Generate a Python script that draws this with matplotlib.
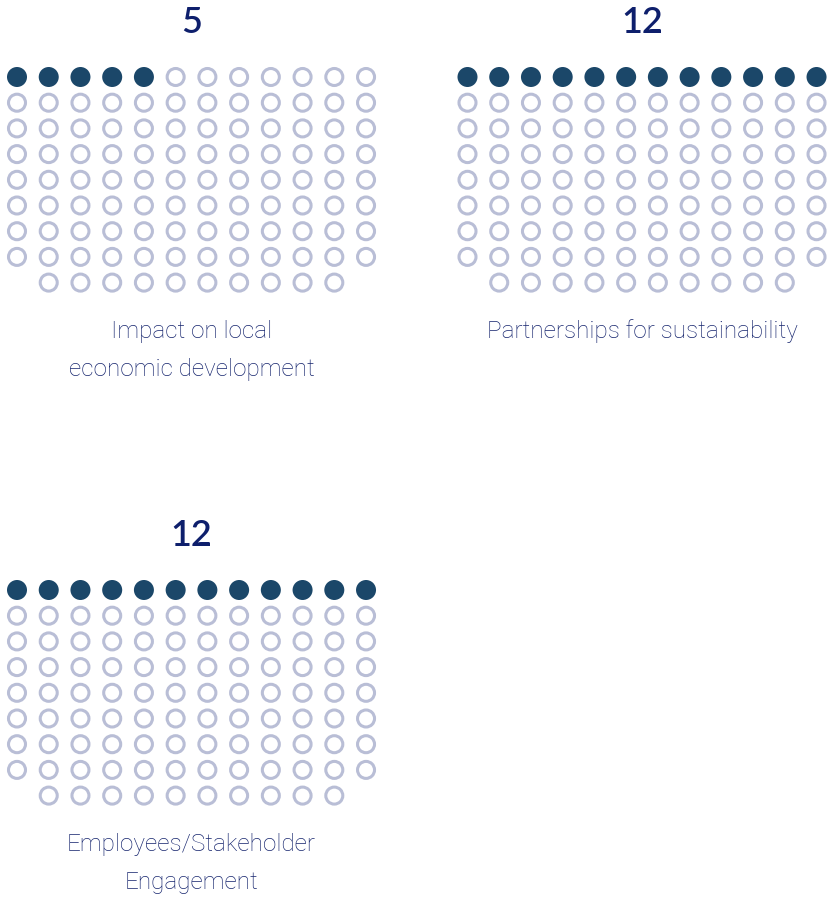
import matplotlib
matplotlib.use("Agg")
import matplotlib.pyplot as plt
from matplotlib.patches import Circle

# ---- data ----
categories = ["Impact on local\neconomic development",
              "Partnerships for sustainability",
              "Employees/Stakeholder\nEngagement"]
values = [5, 12, 12]
n_cols = 12
n_full_rows = 8
last_row_count = 10

# ---- layout (pixels) ----
W, H = 830, 897
panel_origin = [(17.0, 77.0), (467.5, 77.0), (17.0, 590.0)]  # first circle center
dx, dy = 31.73, 25.7

filled_color = "#1B4769"
empty_color = "#B9BED6"
title_color = "#0E1F6C"
label_color = "#16256E"

fig = plt.figure(figsize=(W / 100, H / 100), dpi=100)
ax = fig.add_axes([0, 0, 1, 1])
ax.set_xlim(0, W)
ax.set_ylim(H, 0)
ax.set_aspect("equal")
ax.axis("off")

for (x0, y0), cat, val in zip(panel_origin, categories, values):
    positions = []
    for r in range(n_full_rows):
        for c in range(n_cols):
            positions.append((x0 + c * dx, y0 + r * dy))
    off = (n_cols - last_row_count) / 2
    for c in range(last_row_count):
        positions.append((x0 + (c + off) * dx, y0 + n_full_rows * dy))
    for i, (cx, cy) in enumerate(positions):
        if i < val:
            ax.add_patch(Circle((cx, cy), 10.0, facecolor=filled_color, edgecolor="none"))
        else:
            ax.add_patch(Circle((cx, cy), 8.5, facecolor="none", edgecolor=empty_color,
                                linewidth=2.2))
    xc = x0 + (n_cols - 1) * dx / 2
    ax.text(xc, y0 - 44, str(val), ha="center", va="baseline", fontsize=26,
            fontweight="semibold", color=title_color, family=["Lato", "DejaVu Sans"])
    lines = cat.split("\n")
    ybase = y0 + n_full_rows * dy + 55
    for k, line in enumerate(lines):
        ax.text(xc, ybase + k * 38.5, line, ha="center", va="baseline", fontsize=17.5,
                fontweight="light", color=label_color, family=["Roboto", "DejaVu Sans"])

fig.savefig("out.png", dpi=100, facecolor="white")
